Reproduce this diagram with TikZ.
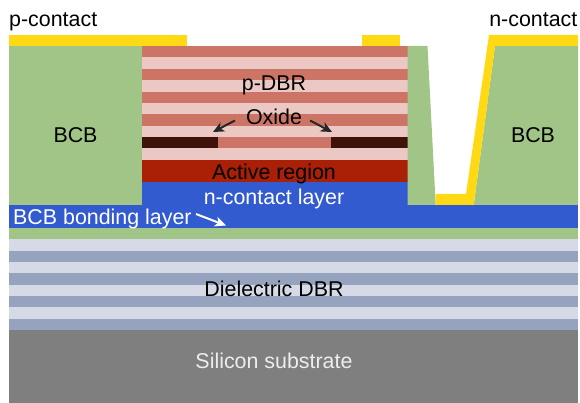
\documentclass[tikz,border=0pt]{standalone}
\usepackage{fontspec}
\setmainfont{Liberation Sans}
\usetikzlibrary{arrows.meta}
\definecolor{dbrdark}{HTML}{CC7566}
\definecolor{dbrlight}{HTML}{EBC8C3}
\definecolor{activered}{HTML}{A92006}
\definecolor{nblue}{HTML}{335BD0}
\definecolor{bcbgreen}{HTML}{A0C587}
\definecolor{contactyellow}{HTML}{FFD914}
\definecolor{oxidedark}{HTML}{40130A}
\definecolor{dielight}{HTML}{D6DAE6}
\definecolor{diedark}{HTML}{95A3BF}
\definecolor{silicon}{HTML}{7F7F7F}
\tikzset{
  lbl/.style={font=\fontsize{21.4}{21.4}\selectfont, inner sep=0pt, anchor=base, text=black},
  lblw/.style={lbl, text=white},
  lblg/.style={lbl, text=black!7},
  callout/.style={-{Stealth[length=11pt,width=10pt,inset=3pt]}, line width=2pt, draw=#1},
}
\begin{document}
\begin{tikzpicture}[x=1pt,y=-1pt]
\useasboundingbox (0,0) rectangle (580,403);
% substrate and mirror
\fill[silicon] (9,330) rectangle (578,403);
\foreach \a/\b/\c in {239/251/dielight,251/262/diedark,262/273/dielight,273/285/diedark,285/296/dielight,296/307/diedark,307/319/dielight,319/330/diedark}
  \fill[\c] (9,\a) rectangle (578,\b);
\fill[bcbgreen] (9,228) rectangle (578,239);
\fill[nblue] (9,205) rectangle (578,228);
% mesa
\fill[nblue] (142,182.5) rectangle (407.5,205);
\fill[activered] (142,160) rectangle (407.5,182.5);
\foreach \a/\b/\c in {46/57.5/dbrdark,57.5/69/dbrlight,69/80/dbrdark,80/92/dbrlight,92/103/dbrdark,103/114.5/dbrlight,114.5/126/dbrdark,126/137/dbrlight,137/148/dbrdark,148/160/dbrlight}
  \fill[\c] (142,\a) rectangle (407.5,\b);
\fill[oxidedark] (142,137) rectangle (218,148);
\fill[oxidedark] (331,137) rectangle (407.5,148);
% BCB
\fill[bcbgreen] (9,46) rectangle (142,205);
\fill[bcbgreen] (407.5,46) -- (427.5,46) -- (435.7,205) -- (407.5,205) -- cycle;
\fill[bcbgreen] (495,46) -- (578,46) -- (578,205) -- (473.7,205) -- cycle;
% contacts
\fill[contactyellow] (9,35) rectangle (187,46);
\fill[contactyellow] (362,35) rectangle (400,46);
\fill[contactyellow] (435.7,194) -- (466,194) -- (489,35) -- (578,35) -- (578,46) -- (495,46) -- (473.7,205) -- (435.7,205) -- cycle;
% labels
\node[lbl, anchor=base west] (pc) at (9,27) {p-contact};
\node[lbl, anchor=base east] (nc) at (577.5,27) {n-contact};
\node[lbl] (bcbl) at (75.5,143) {BCB};
\node[lbl] (bcbr) at (533,143) {BCB};
\node[lbl] (pdbr) at (274,91) {p-DBR};
\node[lbl] (ox) at (274,125) {Oxide};
\node[lbl] (act) at (274,180) {Active region};
\node[lblw] (ncl) at (274,205) {n-contact layer};
\node[lblw, anchor=base west] (bond) at (13,224) {BCB bonding layer};
\node[lbl] (die) at (274,296) {Dielectric DBR};
\node[lblg] (si) at (274,368) {Silicon substrate};
% callouts
\coordinate (oxl) at (213,132);
\coordinate (oxr) at (332,132);
\coordinate (bondend) at (226,225.5);
\coordinate (oxls) at (235,120.5);
\coordinate (oxrs) at (310,120.5);
\coordinate (bonds) at (196,214);
\draw[callout=black!85] (oxls) -- (oxl);
\draw[callout=black!85] (oxrs) -- (oxr);
\draw[callout=white] (bonds) -- (bondend);
\end{tikzpicture}
\end{document}
